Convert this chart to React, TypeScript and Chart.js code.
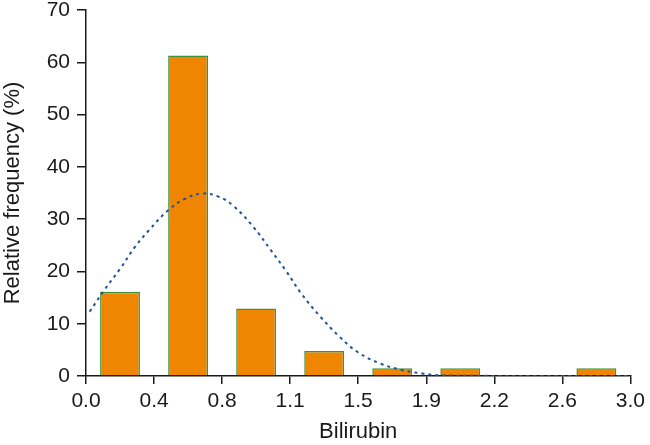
import React, { useEffect, useRef } from "react";
import { Chart, registerables } from "chart.js";

Chart.register(...registerables);

// Histogram bins (bin centres, Bilirubin) and relative frequencies (%)
const binCenters = [0.1875, 0.5625, 0.9375, 1.3125, 1.6875, 2.0625, 2.4375, 2.8125];
const frequencies = [16.1, 61.3, 12.9, 4.8, 1.5, 1.5, 0, 1.5];

// Fitted curve
const curveX = [0.02, 0.1, 0.19, 0.27, 0.35, 0.45, 0.54, 0.64, 0.73, 0.81, 0.92, 1.02, 1.1, 1.19, 1.29, 1.4, 1.5, 1.62, 1.74, 1.85, 1.95, 2.2, 2.5, 2.8, 3.0];
const curveY = [12.3, 16.4, 20.6, 24.7, 28.0, 31.6, 33.8, 34.9, 34.3, 32.6, 28.6, 24.0, 20.2, 15.6, 11.4, 7.4, 4.5, 2.4, 1.15, 0.5, 0.15, 0.03, 0, 0, 0];

// Axis ticks
const xTickValues = [0, 0.375, 0.75, 1.125, 1.5, 1.875, 2.25, 2.625, 3.0];
const xTickLabels = ["0.0", "0.4", "0.8", "1.1", "1.5", "1.9", "2.2", "2.6", "3.0"];
const yTickValues = [0, 10, 20, 30, 40, 50, 60, 70];

const FONT = "'Liberation Sans', Arial, Helvetica, sans-serif";
const INK = "#1a1a1a";

export default function App() {
  const ref = useRef<HTMLCanvasElement | null>(null);

  useEffect(() => {
    if (!ref.current) return;
    const chart = new Chart(ref.current, {
      type: "bar",
      data: {
        datasets: [
          {
            type: "line",
            data: curveX.map((x, i) => ({ x, y: curveY[i] })),
            borderColor: "#1f5596",
            borderWidth: 2,
            borderDash: [3, 4],
            pointRadius: 0,
            fill: false,
            tension: 0.4,
            order: 0,
          } as any,
          {
            type: "bar",
            data: binCenters.map((x, i) => ({ x, y: frequencies[i] })),
            backgroundColor: "#ef8500",
            borderColor: "#3f9038",
            borderWidth: 1.5,
            borderSkipped: "bottom",
            barPercentage: 0.586,
            categoryPercentage: 1,
            order: 1,
          } as any,
        ],
      },
      options: {
        animation: false,
        responsive: true,
        maintainAspectRatio: false,
        layout: { padding: { top: 10, right: 18, left: 0, bottom: 0 } },
        plugins: { legend: { display: false }, tooltip: { enabled: false } },
        scales: {
          x: {
            type: "linear",
            min: 0,
            max: 3,
            offset: false,
            afterBuildTicks: (scale: any) => {
              scale.ticks = xTickValues.map((v) => ({ value: v }));
            },
            afterFit: (scale: any) => {
              scale.height = 69;
            },
            ticks: {
              color: INK,
              font: { family: FONT, size: 21 },
              padding: 5,
              maxRotation: 0,
              autoSkip: false,
              callback: (_v: any, i: number) => xTickLabels[i],
            },
            grid: {
              display: true,
              drawOnChartArea: false,
              drawTicks: true,
              tickLength: 8,
              color: INK,
              lineWidth: 1.5,
              offset: false,
            },
            border: { display: true, color: INK, width: 1.5 },
            title: {
              display: true,
              text: "Bilirubin",
              color: INK,
              font: { family: FONT, size: 22 },
              padding: { top: 0, bottom: 0 },
            },
          },
          y: {
            type: "linear",
            min: 0,
            max: 70,
            afterBuildTicks: (scale: any) => {
              scale.ticks = yTickValues.map((v) => ({ value: v }));
            },
            afterFit: (scale: any) => {
              scale.width = 86;
              scale.paddingTop = 0;
            },
            ticks: {
              color: INK,
              font: { family: FONT, size: 21 },
              padding: 7,
              callback: (v: any) => String(v),
            },
            grid: {
              display: true,
              drawOnChartArea: false,
              drawTicks: true,
              tickLength: 9,
              color: INK,
              lineWidth: 1.5,
            },
            border: { display: true, color: INK, width: 1.5 },
            title: {
              display: true,
              text: "Relative frequency (%)",
              color: INK,
              font: { family: FONT, size: 22 },
              padding: { top: 0, bottom: 0 },
            },
          },
        },
      } as any,
    });
    return () => chart.destroy();
  }, []);

  return (
    <div style={{ position: "fixed", left: 0, top: 0, width: 650, height: 445, background: "#fff" }}>
      <canvas ref={ref} />
    </div>
  );
}
